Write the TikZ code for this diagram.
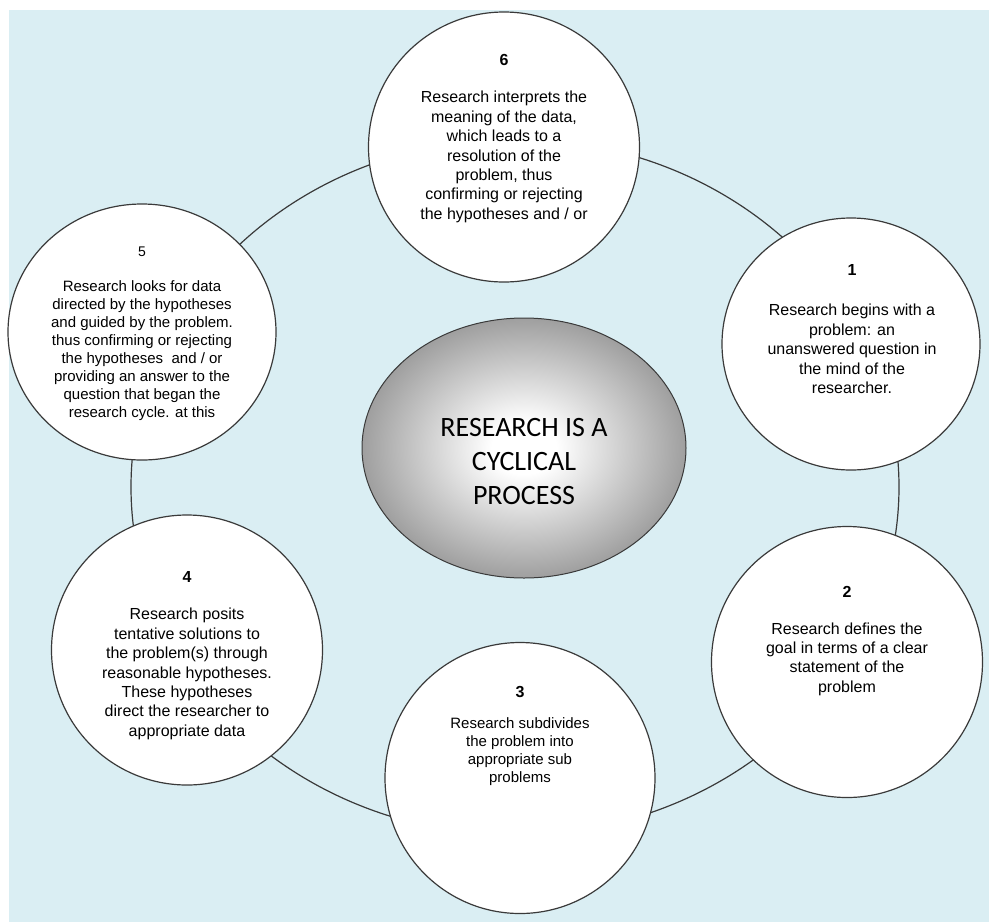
\documentclass[tikz,border=0pt]{standalone}
\usepackage{fontspec}
\setmainfont{Liberation Sans}
\newfontfamily\hubfont{Carlito}
\usetikzlibrary{shapes.geometric}

\definecolor{paleaqua}{HTML}{DAEEF3}
\definecolor{rimline}{HTML}{3A3A3A}
\definecolor{hubgray}{HTML}{6A6A6A}
\pgfdeclareradialshading{hubglow}{\pgfpoint{0bp}{0bp}}{%
  color(0bp)=(white); color(5bp)=(white); color(36bp)=(hubgray); color(100bp)=(hubgray)}

\tikzset{
  backdrop/.style={fill=paleaqua, draw=none},
  ring/.style={draw=rimline, line width=1.2pt},
  stage/.style={ellipse, draw=rimline, fill=white, line width=1.2pt, inner sep=0pt},
  hub/.style={ellipse, draw=rimline, line width=1pt, shading=hubglow, inner sep=0pt,
    minimum width=324pt, minimum height=260pt},
  num/.style={inner sep=0pt, font=\fontsize{16}{19}\selectfont\bfseries},
  numplain/.style={inner sep=0pt, font=\fontsize{14}{17}\selectfont},
  body/.style={align=center, inner sep=0pt, font=\fontsize{16}{19.4}\selectfont},
  bodymid/.style={align=center, inner sep=0pt, font=\fontsize{15}{18}\selectfont},
  bodysmall/.style={align=center, inner sep=0pt, font=\fontsize{15}{18}\selectfont},
  hubtext/.style={align=center, inner sep=0pt, font=\hubfont\fontsize{28}{34}\selectfont}
}

\begin{document}
\begin{tikzpicture}[x=1pt, y=-1pt]
  \useasboundingbox (0,0) rectangle (989,922);
  \fill[backdrop] (9,10) rectangle (989,922);

  % the cycle running through all six stages
  \coordinate (cyclecentre) at (515,487);
  \draw[ring] (cyclecentre) ellipse [x radius=384, y radius=348];

  % stage discs
  \node[stage, minimum width=271pt, minimum height=270pt] (s6) at (504,147) {};
  \node[stage, minimum width=268pt, minimum height=256pt] (s5) at (142,332) {};
  \node[stage, minimum width=258pt, minimum height=252pt] (s1) at (851,344) {};
  \node[stage, minimum width=271pt, minimum height=270pt] (s4) at (187,650) {};
  \node[stage, minimum width=271pt, minimum height=271pt] (s2) at (847,662) {};
  \node[stage, minimum width=270pt, minimum height=271pt] (s3) at (520,778) {};

  % central hub
  \node[hub] (core) at (524,448) {};
  \node[hubtext] (coretext) at (524,462) {RESEARCH IS A\\CYCLICAL\\PROCESS};

  % stage 6
  \node[num] (n6) at (504,60) {6};
  \node[body] (t6) at (504,157) {Research interprets the\\meaning of the data,\\which leads to a\\resolution of the\\problem, thus\\confirming or rejecting\\the hypotheses and / or};

  % stage 5
  \node[numplain] (n5) at (142,252) {5};
  \node[bodysmall] (t5) at (142,351) {Research looks for data\\directed by the hypotheses\\and guided by the problem.\\thus confirming or rejecting\\the hypotheses\ \ and / or\\providing an answer to the\\question that began the\\research cycle. at this};

  % stage 1
  \node[num] (n1) at (852,270) {1};
  \node[body] (t1) at (852,349) {Research begins with a\\problem: an\\unanswered question in\\the mind of the\\researcher.};

  % stage 2
  \node[num] (n2) at (847,592) {2};
  \node[body] (t2) at (847,659) {Research defines the\\goal in terms of a clear\\statement of the\\problem};

  % stage 3
  \node[num] (n3) at (520,692) {3};
  \node[bodymid] (t3) at (520,752) {Research subdivides\\the problem into\\appropriate sub\\problems};

  % stage 4
  \node[num] (n4) at (187,577) {4};
  \node[body] (t4) at (187,674) {Research posits\\tentative solutions to\\the problem(s) through\\reasonable hypotheses.\\These hypotheses\\direct the researcher to\\appropriate data};
\end{tikzpicture}
\end{document}
